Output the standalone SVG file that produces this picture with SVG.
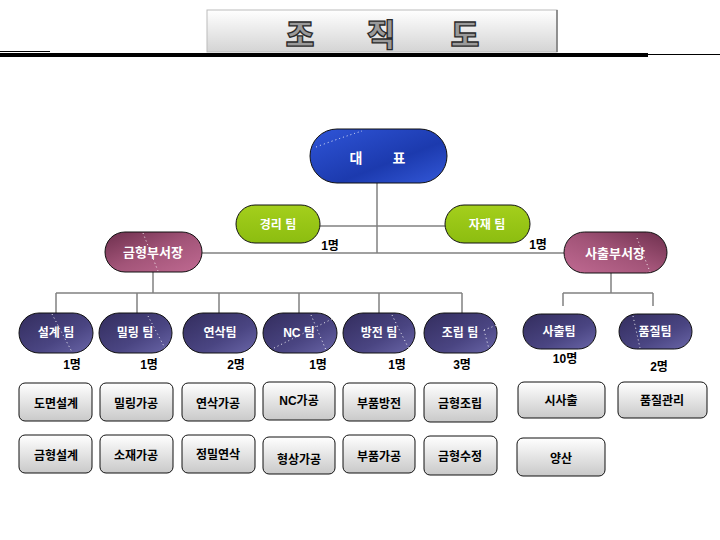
<svg xmlns="http://www.w3.org/2000/svg" width="720" height="540" viewBox="0 0 720 540">
<defs>
<linearGradient id="gTitle" x1="0" y1="0" x2="0" y2="1"><stop offset="0" stop-color="#ffffff"/><stop offset="1" stop-color="#d4d4d4"/></linearGradient>
<linearGradient id="gBlue" x1="0" y1="0" x2="1" y2="1"><stop offset="0" stop-color="#2f55d8"/><stop offset="0.6" stop-color="#1c3aae"/><stop offset="1" stop-color="#3358d8"/></linearGradient>
<linearGradient id="gGreen" x1="0" y1="0" x2="0" y2="1"><stop offset="0" stop-color="#a4cf1c"/><stop offset="1" stop-color="#8cbd10"/></linearGradient>
<linearGradient id="gMaroon" x1="0" y1="0" x2="1" y2="1"><stop offset="0" stop-color="#6d2f4d"/><stop offset="0.5" stop-color="#a25478"/><stop offset="1" stop-color="#c06a92"/></linearGradient>
<linearGradient id="gMaroon2" x1="1" y1="0" x2="0" y2="1"><stop offset="0" stop-color="#6d2f4d"/><stop offset="0.5" stop-color="#a25478"/><stop offset="1" stop-color="#c06a92"/></linearGradient>
<linearGradient id="gTeam" x1="0" y1="0" x2="1" y2="1"><stop offset="0" stop-color="#332d5e"/><stop offset="0.6" stop-color="#4a4582"/><stop offset="1" stop-color="#6a66a8"/></linearGradient>
<linearGradient id="gBox" x1="0" y1="0" x2="0" y2="1"><stop offset="0" stop-color="#ffffff"/><stop offset="1" stop-color="#c9c9c9"/></linearGradient>
</defs>
<style>
.conn line{stroke:#808080;stroke-width:1.5;fill:none}
.pill{stroke:#111;stroke-width:1}
.pt{font-family:"Liberation Sans","Noto Sans CJK KR",sans-serif;font-weight:bold;fill:#fff;text-anchor:middle}
.box{fill:url(#gBox);stroke:#111;stroke-width:1}
.bt{font-family:"Liberation Sans","Noto Sans CJK KR",sans-serif;font-weight:bold;font-size:12px;fill:#000;text-anchor:middle}
.cnt{font-family:"Liberation Sans","Noto Sans CJK KR",sans-serif;font-weight:bold;font-size:12px;fill:#000;text-anchor:middle}
.dot{stroke:#fff;stroke-width:1;stroke-dasharray:1 3;fill:none;opacity:0.9}
.tt{font-family:"Noto Sans CJK KR",sans-serif;font-weight:900;font-size:31px;fill:#9a9a9a;stroke:#2a2a2a;stroke-width:1.3;text-anchor:middle}
</style>
<rect width="720" height="540" fill="#fff"/>

<g id="title">
<line x1="0" y1="51.5" x2="50" y2="51.5" stroke="#000" stroke-width="1"/>
<rect x="0" y="53" width="648" height="4" fill="#000"/>
<line x1="648" y1="54.5" x2="720" y2="54.5" stroke="#000" stroke-width="1"/>
<rect x="207" y="10" width="350" height="42" fill="url(#gTitle)" stroke="#bbb" stroke-width="1"/>
<line x1="557" y1="10" x2="557" y2="52" stroke="#777" stroke-width="1.5"/>
<text class="tt" x="300" y="46">조</text>
<text class="tt" x="381" y="46">직</text>
<text class="tt" x="465" y="46">도</text>
</g>

<g class="conn" id="connectors">
<line x1="377" y1="183" x2="377" y2="253"/>
<line x1="320" y1="226" x2="445" y2="226"/>
<line x1="202" y1="253" x2="564" y2="253"/>
<line x1="153" y1="272" x2="153" y2="293"/>
<line x1="56" y1="293" x2="462" y2="293"/>
<line x1="56" y1="293" x2="56" y2="313"/>
<line x1="137" y1="293" x2="137" y2="313"/>
<line x1="219" y1="293" x2="219" y2="313"/>
<line x1="299" y1="293" x2="299" y2="313"/>
<line x1="379" y1="293" x2="379" y2="313"/>
<line x1="462" y1="293" x2="462" y2="313"/>
<line x1="611" y1="273" x2="611" y2="293"/>
<line x1="563" y1="293" x2="653" y2="293"/>
<line x1="563" y1="293" x2="563" y2="306"/>
<line x1="653" y1="293" x2="653" y2="306"/>
</g>

<g id="ceo">
<rect class="pill" x="310" y="129" width="137" height="54" rx="27" fill="url(#gBlue)"/>
<path class="dot" d="M316 147 Q340 138 362 131"/>
<text class="pt" x="356" y="163" font-size="14">대</text>
<text class="pt" x="399" y="163" font-size="14">표</text>
</g>

<g id="accounting">
<rect class="pill" x="236" y="205" width="84" height="38" rx="19" fill="url(#gGreen)"/>
<text class="pt" x="278" y="229" font-size="12" fill="#f4f4cc">경리 팀</text>
</g>
<text class="cnt" x="330" y="250">1명</text>

<g id="material">
<rect class="pill" x="445" y="205" width="85" height="38" rx="19" fill="url(#gGreen)"/>
<text class="pt" x="487" y="229" font-size="12">자재 팀</text>
</g>
<text class="cnt" x="538" y="249">1명</text>

<g id="mold-head">
<rect class="pill" x="105" y="232" width="97" height="40" rx="20" fill="url(#gMaroon)"/>
<path class="dot" d="M143 233 L158 271"/>
<text class="pt" x="153" y="257" font-size="13">금형부서장</text>
</g>

<g id="inj-head">
<rect class="pill" x="564" y="232" width="103" height="41" rx="20.5" fill="url(#gMaroon2)"/>
<path class="dot" d="M637 238 L650 272"/>
<text class="pt" x="615" y="258" font-size="13">사출부서장</text>
</g>

<g id="team-design">
<rect class="pill" x="19" y="313" width="74" height="40" rx="20" fill="url(#gTeam)"/>
<path class="dot" d="M52 314 L72 352"/>
<text class="pt" x="56" y="337" font-size="12">설계 팀</text>
</g>
<g id="team-milling">
<rect class="pill" x="99" y="313" width="73" height="40" rx="20" fill="url(#gTeam)"/>
<path class="dot" d="M148 316 L166 350"/>
<text class="pt" x="135" y="337" font-size="12">밀링 팀</text>
</g>
<g id="team-grinding">
<rect class="pill" x="183" y="313" width="74" height="40" rx="20" fill="url(#gTeam)"/>
<text class="pt" x="220" y="337" font-size="12">연삭팀</text>
</g>
<g id="team-nc">
<rect class="pill" x="263" y="313" width="74" height="40" rx="20" fill="url(#gTeam)"/>
<path class="dot" d="M274 348 L334 318 M311 315 L326 350"/>
<text class="pt" x="299" y="337" font-size="12">NC 팀</text>
</g>
<g id="team-edm">
<rect class="pill" x="343" y="313" width="72" height="40" rx="20" fill="url(#gTeam)"/>
<path class="dot" d="M392 315 L409 349"/>
<text class="pt" x="379" y="337" font-size="12">방전 팀</text>
</g>
<g id="team-assembly">
<rect class="pill" x="424" y="313" width="73" height="40" rx="20" fill="url(#gTeam)"/>
<path class="dot" d="M484 330 L497 325 M484 330 L489 349"/>
<text class="pt" x="460" y="337" font-size="12">조립 팀</text>
</g>
<g id="team-injection">
<rect class="pill" x="523" y="314" width="73" height="35" rx="17.5" fill="url(#gTeam)"/>
<text class="pt" x="559" y="336" font-size="12">사출팀</text>
</g>
<g id="team-quality">
<rect class="pill" x="619" y="314" width="73" height="35" rx="17.5" fill="url(#gTeam)"/>
<path class="dot" d="M633 316 L640 348"/>
<text class="pt" x="655" y="336" font-size="12">품질팀</text>
</g>

<g id="counts">
<text class="cnt" x="72" y="369">1명</text>
<text class="cnt" x="149" y="369">1명</text>
<text class="cnt" x="236" y="369">2명</text>
<text class="cnt" x="318" y="369">1명</text>
<text class="cnt" x="397" y="369">1명</text>
<text class="cnt" x="462" y="369">3명</text>
<text class="cnt" x="565" y="363">10명</text>
<text class="cnt" x="659" y="371">2명</text>
</g>

<g id="task-1"><rect class="box" x="19" y="383" width="73" height="38" rx="6"/><text class="bt" x="56" y="408">도면설계</text></g>
<g id="task-2"><rect class="box" x="100" y="383" width="73" height="38" rx="6"/><text class="bt" x="136" y="408">밀링가공</text></g>
<g id="task-3"><rect class="box" x="182" y="383" width="73" height="38" rx="6"/><text class="bt" x="218" y="408">연삭가공</text></g>
<g id="task-4"><rect class="box" x="263" y="382" width="72" height="38" rx="6"/><text class="bt" x="299" y="405">NC가공</text></g>
<g id="task-5"><rect class="box" x="343" y="383" width="72" height="38" rx="6"/><text class="bt" x="379" y="408">부품방전</text></g>
<g id="task-6"><rect class="box" x="424" y="383" width="73" height="39" rx="6"/><text class="bt" x="460" y="408">금형조립</text></g>
<g id="task-7"><rect class="box" x="518" y="382" width="87" height="36" rx="6"/><text class="bt" x="561" y="405">시사출</text></g>
<g id="task-8"><rect class="box" x="618" y="382" width="89" height="36" rx="6"/><text class="bt" x="662" y="405">품질관리</text></g>

<g id="task-9"><rect class="box" x="19" y="435" width="73" height="38" rx="6"/><text class="bt" x="56" y="460">금형설계</text></g>
<g id="task-10"><rect class="box" x="100" y="435" width="73" height="38" rx="6"/><text class="bt" x="136" y="460">소재가공</text></g>
<g id="task-11"><rect class="box" x="182" y="435" width="73" height="38" rx="6"/><text class="bt" x="218" y="459">정밀연삭</text></g>
<g id="task-12"><rect class="box" x="263" y="437" width="72" height="37" rx="6"/><text class="bt" x="299" y="464">형상가공</text></g>
<g id="task-13"><rect class="box" x="343" y="435" width="72" height="38" rx="6"/><text class="bt" x="379" y="461">부품가공</text></g>
<g id="task-14"><rect class="box" x="424" y="436" width="73" height="39" rx="6"/><text class="bt" x="460" y="461">금형수정</text></g>
<g id="task-15"><rect class="box" x="517" y="438" width="88" height="38" rx="6"/><text class="bt" x="561" y="463">양산</text></g>
</svg>
